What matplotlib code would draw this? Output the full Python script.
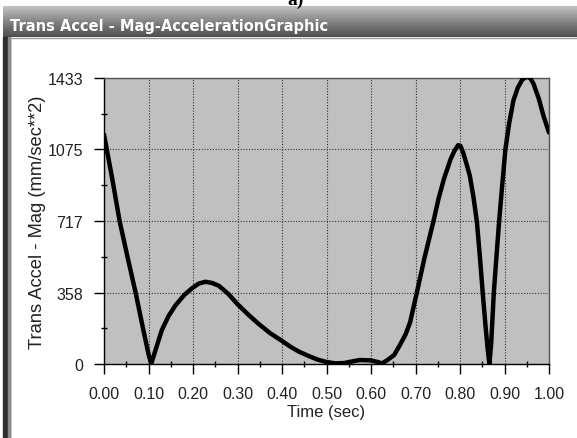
import numpy as np
import matplotlib.pyplot as plt
from matplotlib.patches import Rectangle
from matplotlib.ticker import FixedLocator

# Curve
time_sec = [0.000, 0.018, 0.035, 0.053, 0.071, 0.088, 0.100, 0.106, 0.113, 0.120,
            0.130, 0.145, 0.160, 0.180, 0.198, 0.213, 0.228, 0.243, 0.258, 0.280,
            0.299, 0.323, 0.348, 0.373, 0.399, 0.420, 0.438, 0.460, 0.480, 0.500,
            0.520, 0.540, 0.560, 0.575, 0.600, 0.615, 0.625, 0.637, 0.652, 0.665,
            0.678, 0.688, 0.703, 0.720, 0.740, 0.752, 0.764, 0.779, 0.788, 0.796,
            0.801, 0.807, 0.815, 0.822, 0.830, 0.838, 0.845, 0.851, 0.857, 0.862,
            0.866, 0.870, 0.876, 0.882, 0.888, 0.895, 0.902, 0.910, 0.920, 0.930,
            0.940, 0.950, 0.958, 0.965, 0.977, 0.988, 1.000]
accel_mag = [1150, 935, 717, 535, 358, 175, 50, 0, 50, 100,
             170, 240, 292, 345, 380, 403, 412, 406, 392, 350,
             302, 250, 200, 155, 117, 85, 62, 40, 22, 10,
             3, 5, 14, 20, 18, 10, 3, 20, 45, 95,
             150, 210, 358, 530, 712, 830, 928, 1027, 1070, 1097,
             1093, 1060, 1000, 944, 840, 712, 530, 358, 200, 80,
             0, 100, 358, 540, 717, 900, 1075, 1200, 1320, 1385,
             1425, 1440, 1432, 1405, 1330, 1240, 1160]

y_ticks = [0, 358, 717, 1075, 1433]
x_ticks = [0.0, 0.1, 0.2, 0.3, 0.4, 0.5, 0.6, 0.7, 0.8, 0.9, 1.0]

W, H = 577, 439
fig = plt.figure(figsize=(W / 100, H / 100), dpi=100)
fig.patch.set_facecolor('white')

# window frame drawn in pixel coordinates
bg = fig.add_axes([0, 0, 1, 1])
bg.set_xlim(0, W)
bg.set_ylim(H, 0)
bg.axis('off')
grad = np.linspace(0, 1, 32).reshape(-1, 1)
bg.imshow(grad, cmap='Greys', vmin=-0.9, vmax=1.6, extent=[3, W, 38, 7],
          aspect='auto', zorder=1)
bg.add_patch(Rectangle((3, 38), 7, H - 38, color='#2e2e2e', zorder=1))
bg.add_patch(Rectangle((8, 38), 2, H - 38, color='#8a8a8a', zorder=1))
bg.plot([10, W], [39, 39], color='#9a9a9a', lw=1, zorder=2)
bg.text(10, 31.5, 'Trans Accel - Mag-AccelerationGraphic', color='white',
        fontsize=10.5, fontweight='bold', family='DejaVu Sans',
        va='baseline', ha='left', zorder=3)
bg.text(287, 5, 'a)', color='black', fontsize=14, fontweight='bold',
        family='Liberation Serif', va='baseline', ha='left', zorder=3)

ax = fig.add_axes([104 / W, 1 - 365 / H, (549 - 104) / W, (365 - 79) / H])
ax.set_facecolor('#c0c0c0')
ax.plot(time_sec, accel_mag, color='black', lw=3.2, solid_joinstyle='round',
        solid_capstyle='round', zorder=3)

ax.set_xlim(0, 1)
ax.set_ylim(0, 1433)
ax.set_xticks(x_ticks)
ax.set_xticklabels(['%.2f' % v for v in x_ticks])
ax.set_yticks(y_ticks)
ax.set_yticklabels([str(v) for v in y_ticks])
ax.xaxis.set_minor_locator(FixedLocator([0.05 + 0.1 * i for i in range(10)]))
ax.yaxis.set_minor_locator(FixedLocator([179, 537.5, 896, 1254]))

ax.grid(True, which='major', color='#333333', linestyle=(0, (1, 1.5)), lw=0.8)
ax.tick_params(which='major', direction='out', length=7, width=1, color='black',
               labelsize=11.5, labelcolor='#222222')
ax.tick_params(axis='x', which='major', pad=9)
ax.tick_params(axis='y', which='major', pad=8)
ax.tick_params(which='minor', direction='inout', length=5, width=1, color='black')
for side in ['top', 'right']:
    ax.spines[side].set_color('#555555')
    ax.spines[side].set_linewidth(1)
for side in ['left', 'bottom']:
    ax.spines[side].set_color('black')
    ax.spines[side].set_linewidth(1)

for lab in ax.get_xticklabels() + ax.get_yticklabels():
    lab.set_family('Liberation Sans')

ax.set_xlabel('Time (sec)', family='Liberation Sans', fontsize=12,
              color='#222222')
ax.set_ylabel('Trans Accel - Mag (mm/sec**2)', family='Liberation Sans',
              fontsize=13.2, color='#222222')
ax.xaxis.set_label_coords(0.5, -0.14)
ax.yaxis.set_label_coords(-0.13, 0.5)

fig.savefig('out.png', dpi=100)
